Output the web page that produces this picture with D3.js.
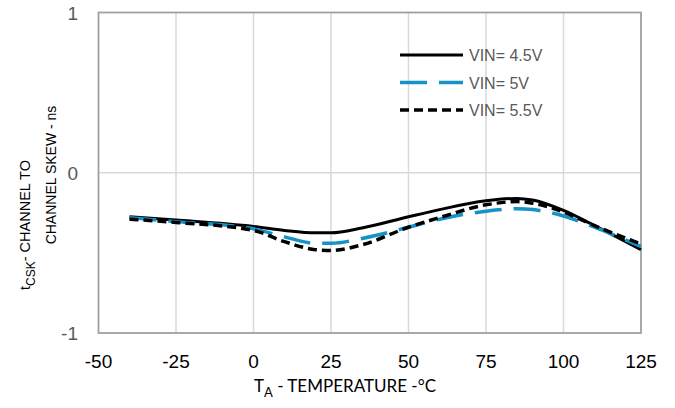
<!DOCTYPE html>
<html>
<head>
<meta charset="utf-8">
<script src="https://cdn.jsdelivr.net/npm/d3@7"></script>
<style>
  body { margin: 0; background: #fff; }
  svg text { font-family: "Liberation Sans", Arial, sans-serif; }
</style>
</head>
<body>
<div id="chart"></div>
<script>
// Data
const temps = [-40, -25, 0, 10, 20, 25, 35, 50, 60, 75, 85, 90, 100, 110, 125];
const vin45 = [-0.275, -0.295, -0.335, -0.36, -0.375, -0.375, -0.345, -0.275, -0.23, -0.175, -0.16, -0.17, -0.235, -0.33, -0.48];
const vin5 = [-0.28, -0.305, -0.35, -0.40, -0.44, -0.44, -0.41, -0.34, -0.29, -0.24, -0.225, -0.23, -0.27, -0.34, -0.46];
const vin55 = [-0.29, -0.31, -0.36, -0.43, -0.48, -0.485, -0.45, -0.34, -0.28, -0.2, -0.18, -0.19, -0.245, -0.33, -0.445];
const xTicks = [-50, -25, 0, 25, 50, 75, 100, 125];
const yTicks = [-1, 0, 1];
const seriesNames = ["VIN= 4.5V", "VIN= 5V", "VIN= 5.5V"];

const w = 675, h = 408;
const plotL = 98.5, plotR = 641, plotT = 12.5, plotB = 333;

const x = d3.scaleLinear().domain([-50, 125]).range([plotL, plotR]);
const y = d3.scaleLinear().domain([-1, 1]).range([plotB, plotT]);

const svg = d3.select("#chart").append("svg")
  .attr("width", w)
  .attr("height", h);

// gridlines
svg.append("g").selectAll("line")
  .data(xTicks.slice(1, -1))
  .enter().append("line")
  .attr("x1", d => x(d)).attr("x2", d => x(d))
  .attr("y1", plotT).attr("y2", plotB)
  .attr("stroke", "#d9d9d9").attr("stroke-width", 1.5);

svg.append("line")
  .attr("x1", plotL).attr("x2", plotR)
  .attr("y1", y(0)).attr("y2", y(0))
  .attr("stroke", "#d9d9d9").attr("stroke-width", 1.5);

// plot border
svg.append("rect")
  .attr("x", plotL).attr("y", plotT)
  .attr("width", plotR - plotL).attr("height", plotB - plotT)
  .attr("fill", "none").attr("stroke", "#a0a0a0").attr("stroke-width", 1.8);

// tick labels
svg.append("g").selectAll("text")
  .data(xTicks)
  .enter().append("text")
  .attr("x", d => x(d)).attr("y", 367.5)
  .attr("text-anchor", "middle")
  .attr("font-size", 19)
  .attr("fill", "#000")
  .text(d => d);

svg.append("g").selectAll("text")
  .data(yTicks)
  .enter().append("text")
  .attr("x", 78).attr("y", d => y(d) + 7)
  .attr("text-anchor", "end")
  .attr("font-size", 19)
  .attr("fill", "#595959")
  .text(d => d);

// curves
const series = [
  { name: seriesNames[0], values: vin45, color: "#000", width: 3, dash: null },
  { name: seriesNames[1], values: vin5, color: "#1592c6", width: 3.5, dash: "27,12" },
  { name: seriesNames[2], values: vin55, color: "#000", width: 3.5, dash: "9,5" }
];

const line = d3.line()
  .x((d, i) => x(temps[i]))
  .y(d => y(d))
  .curve(d3.curveMonotoneX);

svg.append("g").selectAll("path")
  .data(series)
  .enter().append("path")
  .attr("d", d => line(d.values))
  .attr("fill", "none")
  .attr("stroke", d => d.color)
  .attr("stroke-width", d => d.width)
  .attr("stroke-dasharray", d => d.dash);

// legend
const legend = svg.append("g").attr("transform", "translate(400, 55)");
legend.selectAll("g")
  .data(series)
  .enter().append("g")
  .attr("transform", (d, i) => `translate(0, ${i * 27.5})`)
  .each(function (d) {
    const g = d3.select(this);
    g.append("line")
      .attr("x1", 0).attr("x2", 63)
      .attr("y1", 0).attr("y2", 0)
      .attr("stroke", d.color)
      .attr("stroke-width", d.width)
      .attr("stroke-dasharray", d.dash);
    g.append("text")
      .attr("x", 69).attr("y", 6)
      .attr("font-size", 16)
      .attr("fill", "#595959")
      .text(d.name);
  });

// x axis title
const xt = svg.append("text")
  .attr("x", 345).attr("y", 392)
  .attr("text-anchor", "middle")
  .attr("font-size", 17)
  .style("font-family", "Lato, 'Open Sans', sans-serif")
  .attr("fill", "#000");
xt.append("tspan").text("T");
xt.append("tspan").attr("dy", 5).attr("font-size", 13).text("A");
xt.append("tspan").attr("dy", -5).text(" - TEMPERATURE -°C");

// y axis title
const yt1 = svg.append("text")
  .attr("transform", "rotate(-90)")
  .attr("x", -290).attr("y", 30)
  .attr("font-size", 14.5)
  .attr("fill", "#000");
yt1.append("tspan").text("t");
yt1.append("tspan").attr("dy", 5).attr("font-size", 12).text("CSK");
yt1.append("tspan").attr("dy", -5).text("- CHANNEL TO");

svg.append("text")
  .attr("transform", "rotate(-90)")
  .attr("x", -175).attr("y", 56)
  .attr("text-anchor", "middle")
  .attr("font-size", 14)
  .attr("fill", "#000")
  .text("CHANNEL SKEW - ns");
</script>
</body>
</html>
